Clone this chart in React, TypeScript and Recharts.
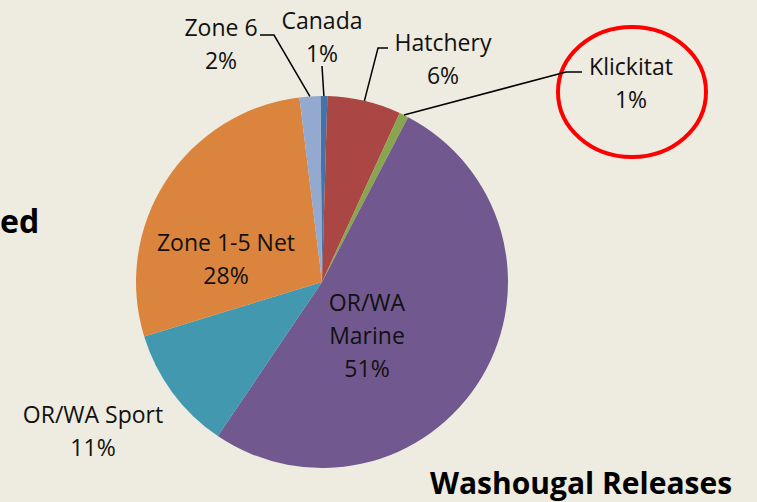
import React from "react";
import {Pie, PieChart} from "recharts";

const categories = [
  "Canada",
  "Hatchery",
  "Klickitat",
  "OR/WA Marine",
  "OR/WA Sport",
  "Zone 1-5 Net",
  "Zone 6",
];
const shares = [0.6, 6.4, 0.8, 51.8, 10.8, 27.8, 1.8];

const COLORS = [
  "#4572a7",
  "#aa4643",
  "#89a54e",
  "#71588f",
  "#4198af",
  "#db843d",
  "#93a9cf",
];

// where each label sits; leader = bend points of the leader line (it ends at the slice edge)
type LabelSpot = {
  x: number;
  y: number;
  lines: string[];
  leader?: [number, number][];
};
const LABEL_SPOTS: LabelSpot[] = [
  {x: 322, y: 29, lines: ["Canada", "1%"], leader: [[322, 66]]},
  {x: 443, y: 51, lines: ["Hatchery", "6%"], leader: [[388, 48], [378, 48]]},
  {x: 631, y: 75, lines: ["Klickitat", "1%"], leader: [[582, 72], [566, 72]]},
  {x: 367, y: 311, lines: ["OR/WA", "Marine", "51%"]},
  {x: 93, y: 423, lines: ["OR/WA Sport", "11%"]},
  {x: 226, y: 251, lines: ["Zone 1-5 Net", "28%"]},
  {x: 221, y: 36, lines: ["Zone 6", "2%"], leader: [[260, 35], [274, 35]]},
];

const FONT = "'Open Sans', 'Noto Sans', sans-serif";
const RAD = Math.PI / 180;

const data = categories.map((name, i) => ({
  name,
  value: shares[i],
  fill: COLORS[i],
}));

function renderLabel(props: any) {
  const {cx, cy, midAngle, outerRadius, index} = props;
  const spot = LABEL_SPOTS[index];
  let path = null;
  if (spot.leader) {
    const ex = cx + outerRadius * Math.cos(-midAngle * RAD);
    const ey = cy + outerRadius * Math.sin(-midAngle * RAD);
    const pts = [...spot.leader, [ex, ey]];
    path = (
      <polyline
        points={pts.map((p) => p.join(",")).join(" ")}
        fill="none"
        stroke="#000"
        strokeWidth={1.5}
      />
    );
  }
  return (
    <g key={`lbl-${index}`}>
      {path}
      <text
        x={spot.x}
        y={spot.y}
        textAnchor="middle"
        fontFamily={FONT}
        fontSize={23}
        fill="#111">
        {spot.lines.map((line, k) => (
          <tspan key={k} x={spot.x} dy={k === 0 ? 0 : 33}>
            {line}
          </tspan>
        ))}
      </text>
    </g>
  );
}

export default function App() {
  return (
    <div
      style={{
        position: "fixed",
        left: 0,
        top: 0,
        width: 757,
        height: 502,
        background: "#eeebe0",
      }}>
      <PieChart width={757} height={502} margin={{top: 0, right: 0, bottom: 0, left: 0}}>
        <Pie
          data={data}
          dataKey="value"
          nameKey="name"
          cx={322}
          cy={282}
          outerRadius={186}
          startAngle={90.5}
          endAngle={-269.5}
          stroke="none"
          label={renderLabel}
          labelLine={false}
          isAnimationActive={false}
        />
        <text
          x={0}
          y={233}
          textAnchor="start"
          fontFamily={FONT}
          fontWeight={700}
          fontSize={32}
          fill="#000">
          ed
        </text>
        <text
          x={581}
          y={494}
          textAnchor="middle"
          fontFamily={FONT}
          fontWeight={700}
          fontSize={30}
          fill="#000">
          Washougal Releases
        </text>
        <ellipse
          cx={632}
          cy={92}
          rx={74}
          ry={65}
          fill="none"
          stroke="#ff0000"
          strokeWidth={4}
        />
      </PieChart>
    </div>
  );
}
